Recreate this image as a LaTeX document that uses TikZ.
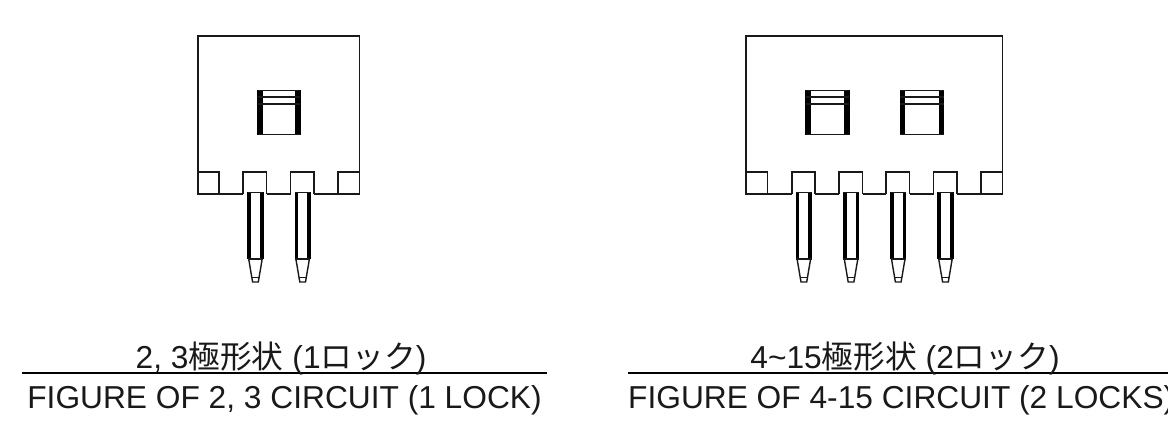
\documentclass[tikz,border=0pt]{standalone}
\usepackage{fontspec}
\setmainfont{Liberation Sans}
\newfontfamily\cjk{Noto Sans CJK JP}
\tikzset{
  x=1pt,y=-1pt,
  outline/.style={draw=black!90,line width=1.8pt,line join=miter},
  thin part/.style={draw=black!90,line width=1.4pt},
  pin side/.style={draw=black,line width=3.6pt},
  caption/.style={inner sep=0pt,font=\fontsize{31.7pt}{34pt}\selectfont,text=black!90,anchor=base},
  rule/.style={draw=black,line width=2pt},
}
\newcommand{\pinat}[1]{%
  % #1 = left edge x of the pin
  \draw[pin side] (#1,192) -- (#1,259);
  \draw[pin side] (#1+12.5,192) -- (#1+12.5,259);
  \draw[thin part] (#1-1.5,192.5) -- (#1+14,192.5);
  \draw[thin part] (#1-1.5,259) -- (#1+14,259);
  \draw[thin part] (#1-0.5,259) -- (#1+3.4,282) -- (#1+9.1,282) -- (#1+13,259);
  \draw[thin part] (#1+2.7,277.5) -- (#1+9.8,277.5);
}
\newcommand{\lockat}[2]{%
  % #1 = left x, #2 = right x
  \fill[black] (#1-0.5,90) rectangle (#1+5,135);
  \fill[black] (#2-4.8,90) rectangle (#2+0.5,135);
  \draw[thin part] (#1,90.5) -- (#2,90.5);
  \draw[thin part] (#1,97) -- (#2,97);
  \draw[thin part] (#1,104) -- (#2,104);
  \draw[thin part] (#1,134.5) -- (#2,134.5);
}
\newcommand{\slot}[2]{\draw[outline] (#1,194) -- (#1,172) -- (#2,172) -- (#2,194);}
\begin{document}
\begin{tikzpicture}
\useasboundingbox (0,0) rectangle (1168,429);
% left connector
\draw[outline] (198,172) -- (198,36) -- (359.5,36) -- (359.5,172);
\draw[outline] (198,172) -- (198,194.3) -- (243,194.3);
\draw[outline] (266.5,194.3) -- (290.5,194.3);
\draw[outline] (314,194.3) -- (359.5,194.3) -- (359.5,172);
\slot{198}{219}\slot{338}{359.5}
\draw[outline] (243,194.3) -- (243,172) -- (266.5,172) -- (266.5,194.3);
\draw[outline] (290.5,194.3) -- (290.5,172) -- (314,172) -- (314,194.3);
\lockat{257.5}{300}
\pinat{249.2}\pinat{296.4}
% right connector
\draw[outline] (746,172) -- (746,36) -- (1002.5,36) -- (1002.5,172);
\draw[outline] (746,172) -- (746,194.3) -- (792,194.3);
\foreach \a/\b in {815/839,862.5/886,909.5/933.5}{\draw[outline] (\a,194.3) -- (\b,194.3);}
\draw[outline] (957,194.3) -- (1002.5,194.3) -- (1002.5,172);
\slot{746}{767.5}\slot{981}{1002.5}
\foreach \a/\b in {792/815,839/862.5,886/909.5,933.5/957}{\slot{\a}{\b}}
\lockat{805.5}{849}\lockat{900}{943.5}
\foreach \p in {797.6,844.8,892,939.2}{\pinat{\p}}
% captions
\draw[rule] (22,372.5) -- (547,372.5);
\draw[rule] (628,372.5) -- (1168,372.5);
\node[caption] (capA) at (281,368) {2, 3{\cjk 極形状} (1{\cjk ロック})};
\node[caption] (capB) at (284.5,408.5) {FIGURE OF 2, 3 CIRCUIT (1 LOCK)};
\node[caption] (capC) at (905,368) {4\char`\~15{\cjk 極形状} (2{\cjk ロック})};
\node[caption,anchor=base west] (capD) at (628,408.5) {FIGURE OF 4-15 CIRCUIT (2 LOCKS)};
\end{tikzpicture}
\end{document}
